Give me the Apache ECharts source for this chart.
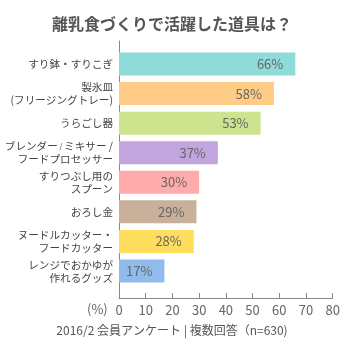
<!DOCTYPE html>
<html><head><meta charset="utf-8">
<script src="https://cdn.jsdelivr.net/npm/echarts@6/dist/echarts.min.js"></script>
<style>html,body{margin:0;padding:0;background:#fff}#c{width:344px;height:344px}</style>
</head><body><div id="c"></div>
<script>
var categories = ["すり鉢・すりこぎ", "製氷皿\n(フリージングトレー)", "うらごし器", "ブレンダー / ミキサー /\nフードプロセッサー", "すりつぶし用の\nスプーン", "おろし金", "ヌードルカッター・\nフードカッター", "レンジでおかゆが\n作れるグッズ"];
var values = [66, 58, 53, 37, 30, 29, 28, 17];
var colors = ["#8edbd7", "#ffcc88", "#cde38e", "#c2a4de", "#ffabab", "#c8b09a", "#ffdd5e", "#90bbeb"];
var font = "'Noto Sans CJK JP', sans-serif";
var chart = echarts.init(document.getElementById('c'));
chart.setOption({
  animation: false,
  title: [{
    text: "離乳食づくりで活躍した道具は？", left: 'center', top: 11,
    textStyle: {fontFamily: font, fontSize: 16, fontWeight: 'bold', color: '#555'}
  }, {
    text: "2016/2 会員アンケート | 複数回答（n=630)", left: 'center', top: 319,
    textStyle: {fontFamily: font, fontSize: 12, fontWeight: 'normal', color: '#555'}
  }],
  grid: [
    {left: 119, right: 11.3, top: 49.2, bottom: 58.2, containLabel: false, outerBoundsMode: 'none'},
    {left: 119, right: 11.3, top: 41, bottom: 46, containLabel: false, outerBoundsMode: 'none'}
  ],
  xAxis: [
    {gridIndex: 0, type: 'value', min: 0, max: 80, interval: 10, show: false},
    {gridIndex: 1, type: 'value', min: 0, max: 80, interval: 10,
     axisLine: {show: true, lineStyle: {color: '#888'}},
     axisTick: {show: true, inside: true, length: 5, lineStyle: {color: '#888'}},
     splitLine: {show: false},
     axisLabel: {fontFamily: font, fontSize: 13, color: '#666', margin: 6}}
  ],
  yAxis: [
    {gridIndex: 0, type: 'category', data: categories, inverse: true,
     axisLine: {show: false}, axisTick: {show: false},
     axisLabel: {interval: 0, hideOverlap: false, fontFamily: font, fontSize: 11, color: '#444', margin: 6, lineHeight: 13, align: 'right',
       formatter: function (v) {
         return v.split('\n').map(function (line) {
           return line.split(' / ').map(function (p) { return p ? '{n|' + p + '}' : ''; }).join('{s| / }');
         }).join('\n');
       },
       rich: {
         n: {fontFamily: font, fontSize: 10.6, color: '#444', lineHeight: 13},
         s: {fontFamily: font, fontSize: 7.5, color: '#444', lineHeight: 13}
       }}},
    {gridIndex: 1, type: 'value', min: 0, max: 1,
     axisLine: {show: true, lineStyle: {color: '#888'}},
     axisTick: {show: false}, axisLabel: {show: false}, splitLine: {show: false}}
  ],
  graphic: [{
    type: 'text', left: 87, top: 303,
    style: {text: '(%)', fontFamily: font, fontSize: 13, fill: '#666'}
  }],
  series: [{
    type: 'bar', xAxisIndex: 0, yAxisIndex: 0, barWidth: 23,
    data: values.map(function (v, i) { return {value: v, itemStyle: {color: colors[i]}}; }),
    label: {show: true, position: 'insideRight', distance: 12, formatter: '{c}%',
            fontFamily: font, fontSize: 13, color: '#666'}
  }]
});
</script></body></html>
